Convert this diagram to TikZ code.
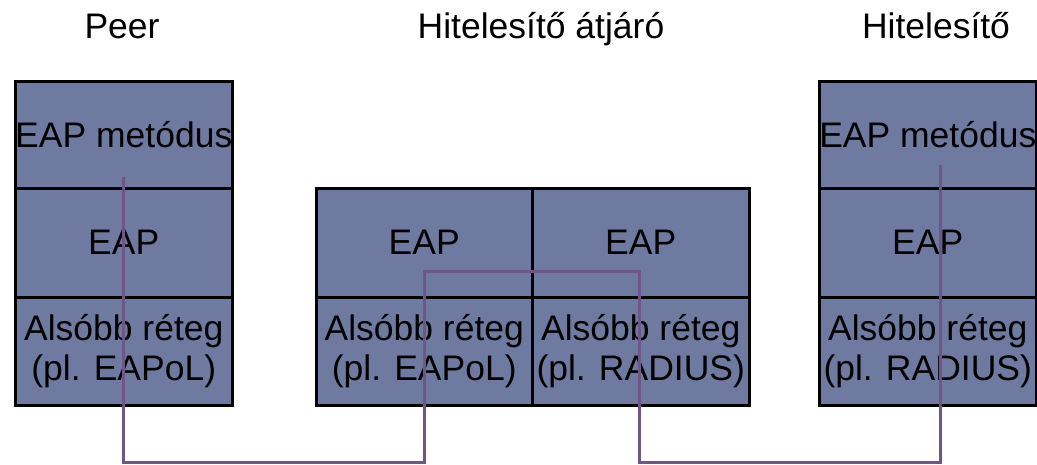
\documentclass[tikz,border=0pt]{standalone}
\usepackage{fontspec}
\setmainfont{Liberation Sans}
\definecolor{cellfill}{HTML}{6F7AA0}
\definecolor{linkcol}{HTML}{6E5686}
\tikzset{
  cell/.style={draw=black, line width=2.5pt, fill=cellfill, inner sep=0pt, anchor=north west, font=\fontsize{35.5}{40}\selectfont, align=center, text=black},
  title/.style={font=\fontsize{35.5}{40}\selectfont, text=black, inner sep=0pt, anchor=base},
  link/.style={draw=linkcol, line width=3pt}
}
\begin{document}
\begin{tikzpicture}[x=1pt,y=-1pt]
\useasboundingbox (0,0) rectangle (1037,464);
% titles
\node[title] (tpeer) at (122,38) {Peer};
\node[title] (tgw) at (541,38) {Hitelesítő átjáró};
\node[title] (tauth) at (936,38) {Hitelesítő};
% left stack
\node[cell, minimum width=217pt, minimum height=107pt] (pm) at (14,80) {EAP metódus};
\node[cell, minimum width=217pt, minimum height=109pt] (pe) at (14,187) {EAP};
\node[cell, minimum width=217pt, minimum height=108pt] (pl) at (14,296) {Alsóbb réteg\\(pl. EAPoL)};
% middle stack
\node[cell, minimum width=216pt, minimum height=109pt] (ge1) at (315,187) {EAP};
\node[cell, minimum width=217pt, minimum height=109pt] (ge2) at (531,187) {EAP};
\node[cell, minimum width=216pt, minimum height=108pt] (gl1) at (315,296) {Alsóbb réteg\\(pl. EAPoL)};
\node[cell, minimum width=217pt, minimum height=108pt] (gl2) at (531,296) {Alsóbb réteg\\(pl. RADIUS)};
% right stack
\node[cell, minimum width=217pt, minimum height=107pt] (am) at (818,80) {EAP metódus};
\node[cell, minimum width=217pt, minimum height=109pt] (ae) at (818,187) {EAP};
\node[cell, minimum width=217pt, minimum height=108pt] (al) at (818,296) {Alsóbb réteg\\(pl. RADIUS)};
% link path
\coordinate (s) at (123,177);
\coordinate (e) at (940,165);
\draw[link] (s) -- (123,462) -- (424,462) -- (424,271) -- (639,271) -- (639,462) -- (940,462) -- (e);
\end{tikzpicture}
\end{document}
